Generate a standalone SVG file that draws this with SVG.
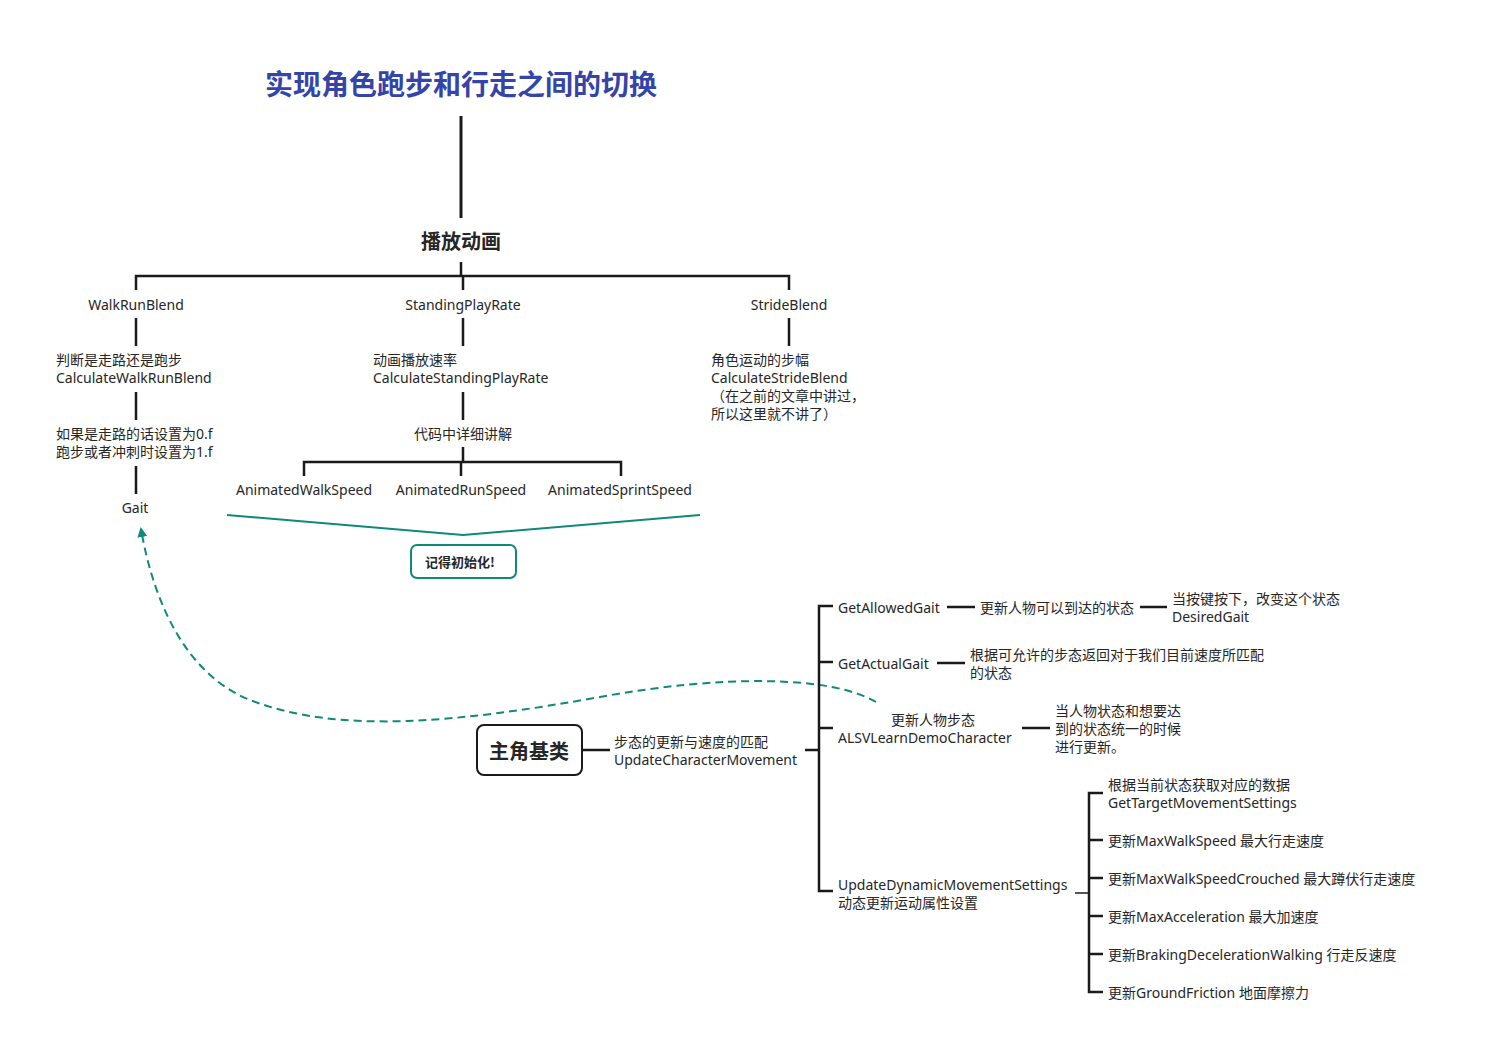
<svg xmlns="http://www.w3.org/2000/svg" width="1485" height="1057" viewBox="0 0 1485 1057">
<defs>
<style>
text{font-family:"Noto Sans","Noto Sans CJK SC",sans-serif;fill:#262626;font-size:14px;dominant-baseline:central}
.c{text-anchor:middle}
.title{font-size:28px;font-weight:bold;fill:#3444a8;font-family:"Noto Sans CJK SC",sans-serif}
.b{font-weight:bold;font-family:"Noto Sans CJK SC",sans-serif}
.ln{stroke:#1a1a1a;stroke-width:2.5;fill:none}
.g{stroke:#555;stroke-width:2;fill:none}
.teal{stroke:#0f8a78;stroke-width:2;fill:none}
</style>
<marker id="ah" viewBox="0 0 10 10" refX="8" refY="5" markerWidth="5" markerHeight="5" orient="auto-start-reverse">
<path d="M0,0 L10,5 L0,10 z" fill="#0f8a78"/>
</marker>
</defs>
<rect width="1485" height="1057" fill="#fff"/>
<g id="connectors">
<path class="ln" d="M461,116 V218" style="stroke-width:3"/>
<path class="ln" d="M461,262 V276 M136,290 V276 H789 V290 M463,276 V290"/>
<path class="ln" d="M136,318 V346 M463,318 V346 M789,318 V346"/>
<path class="ln" d="M136,392 V420 M463,392 V420 M136,466 V494"/>
<path class="ln" d="M463,447 V462 M304,476 V462 H621 V476 M461,462 V476"/>
<path class="teal" d="M227,515 L463,535 L700,515"/>
<path class="teal" stroke-dasharray="8,5" marker-end="url(#ah)" d="M876,702 C830,675 720,675 600,697 C460,722 340,735 250,700 C190,676 155,610 141,529"/>
<path class="ln" d="M582,750 H610 M805,750 H819 M833,606 H819 V891 H833 M819,662 H833 M819,728 H833"/>
<path class="ln" d="M947,607 H975 M1140,607 H1167 M937,663 H965 M1022,728 H1050"/>
<path class="g" d="M1075,893 H1089"/>
<path class="ln" d="M1103,793 H1089 V992 H1103 M1089,840 H1103 M1089,878 H1103 M1089,916 H1103 M1089,954 H1103"/>
</g>
<g id="title"><text class="title c" x="461" y="83">实现角色跑步和行走之间的切换</text></g>
<g id="play"><text class="b c" x="461" y="240" style="font-size:20px">播放动画</text></g>
<g id="walkrunblend"><text class="c" x="136" y="304">WalkRunBlend</text></g>
<g id="standingplayrate"><text class="c" x="463" y="304">StandingPlayRate</text></g>
<g id="strideblend"><text class="c" x="789" y="304">StrideBlend</text></g>
<g id="calcwalkrun"><text x="56" y="359">判断是走路还是跑步</text><text x="56" y="377">CalculateWalkRunBlend</text></g>
<g id="setvalue"><text x="56" y="433">如果是走路的话设置为0.f</text><text x="56" y="451">跑步或者冲刺时设置为1.f</text></g>
<g id="gait"><text class="c" x="135" y="507">Gait</text></g>
<g id="calcstanding"><text x="373" y="359">动画播放速率</text><text x="373" y="377">CalculateStandingPlayRate</text></g>
<g id="codeexplain"><text class="c" x="463" y="433">代码中详细讲解</text></g>
<g id="walkspeed"><text class="c" x="304" y="489">AnimatedWalkSpeed</text></g>
<g id="runspeed"><text class="c" x="461" y="489">AnimatedRunSpeed</text></g>
<g id="sprintspeed"><text class="c" x="620" y="489">AnimatedSprintSpeed</text></g>
<g id="init"><rect x="411" y="545" width="105" height="33" rx="6" fill="#fff" stroke="#0f8a78" stroke-width="2"/><text class="b c" x="460" y="561" style="font-size:13px">记得初始化!</text></g>
<g id="calcstride"><text x="711" y="359">角色运动的步幅</text><text x="711" y="377">CalculateStrideBlend</text><text x="711" y="395">（在之前的文章中讲过，</text><text x="711" y="413">所以这里就不讲了）</text></g>
<g id="mainclass"><rect x="477" y="725" width="105" height="50" rx="7" fill="#fff" stroke="#1a1a1a" stroke-width="2"/><text class="b c" x="529" y="750" style="font-size:20px">主角基类</text></g>
<g id="updatechar"><text x="614" y="741">步态的更新与速度的匹配</text><text x="614" y="759">UpdateCharacterMovement</text></g>
<g id="getallowed"><text x="838" y="607">GetAllowedGait</text></g>
<g id="updatereach"><text x="980" y="607">更新人物可以到达的状态</text></g>
<g id="desired"><text x="1172" y="598">当按键按下，改变这个状态</text><text x="1172" y="616">DesiredGait</text></g>
<g id="getactual"><text x="838" y="663">GetActualGait</text></g>
<g id="actualdesc"><text x="970" y="654">根据可允许的步态返回对于我们目前速度所匹配</text><text x="970" y="672">的状态</text></g>
<g id="alsv"><text class="c" x="933" y="719">更新人物步态</text><text x="838" y="737">ALSVLearnDemoCharacter</text></g>
<g id="alsvdesc"><text x="1055" y="710">当人物状态和想要达</text><text x="1055" y="728">到的状态统一的时候</text><text x="1055" y="746">进行更新。</text></g>
<g id="updatedyn"><text x="838" y="884">UpdateDynamicMovementSettings</text><text x="838" y="902">动态更新运动属性设置</text></g>
<g id="gettarget"><text x="1108" y="784">根据当前状态获取对应的数据</text><text x="1108" y="802">GetTargetMovementSettings</text></g>
<g id="maxwalk"><text x="1108" y="840">更新MaxWalkSpeed 最大行走速度</text></g>
<g id="maxcrouch"><text x="1108" y="878">更新MaxWalkSpeedCrouched 最大蹲伏行走速度</text></g>
<g id="maxaccel"><text x="1108" y="916">更新MaxAcceleration 最大加速度</text></g>
<g id="braking"><text x="1108" y="954">更新BrakingDecelerationWalking 行走反速度</text></g>
<g id="friction"><text x="1108" y="992">更新GroundFriction 地面摩擦力</text></g>
</svg>
